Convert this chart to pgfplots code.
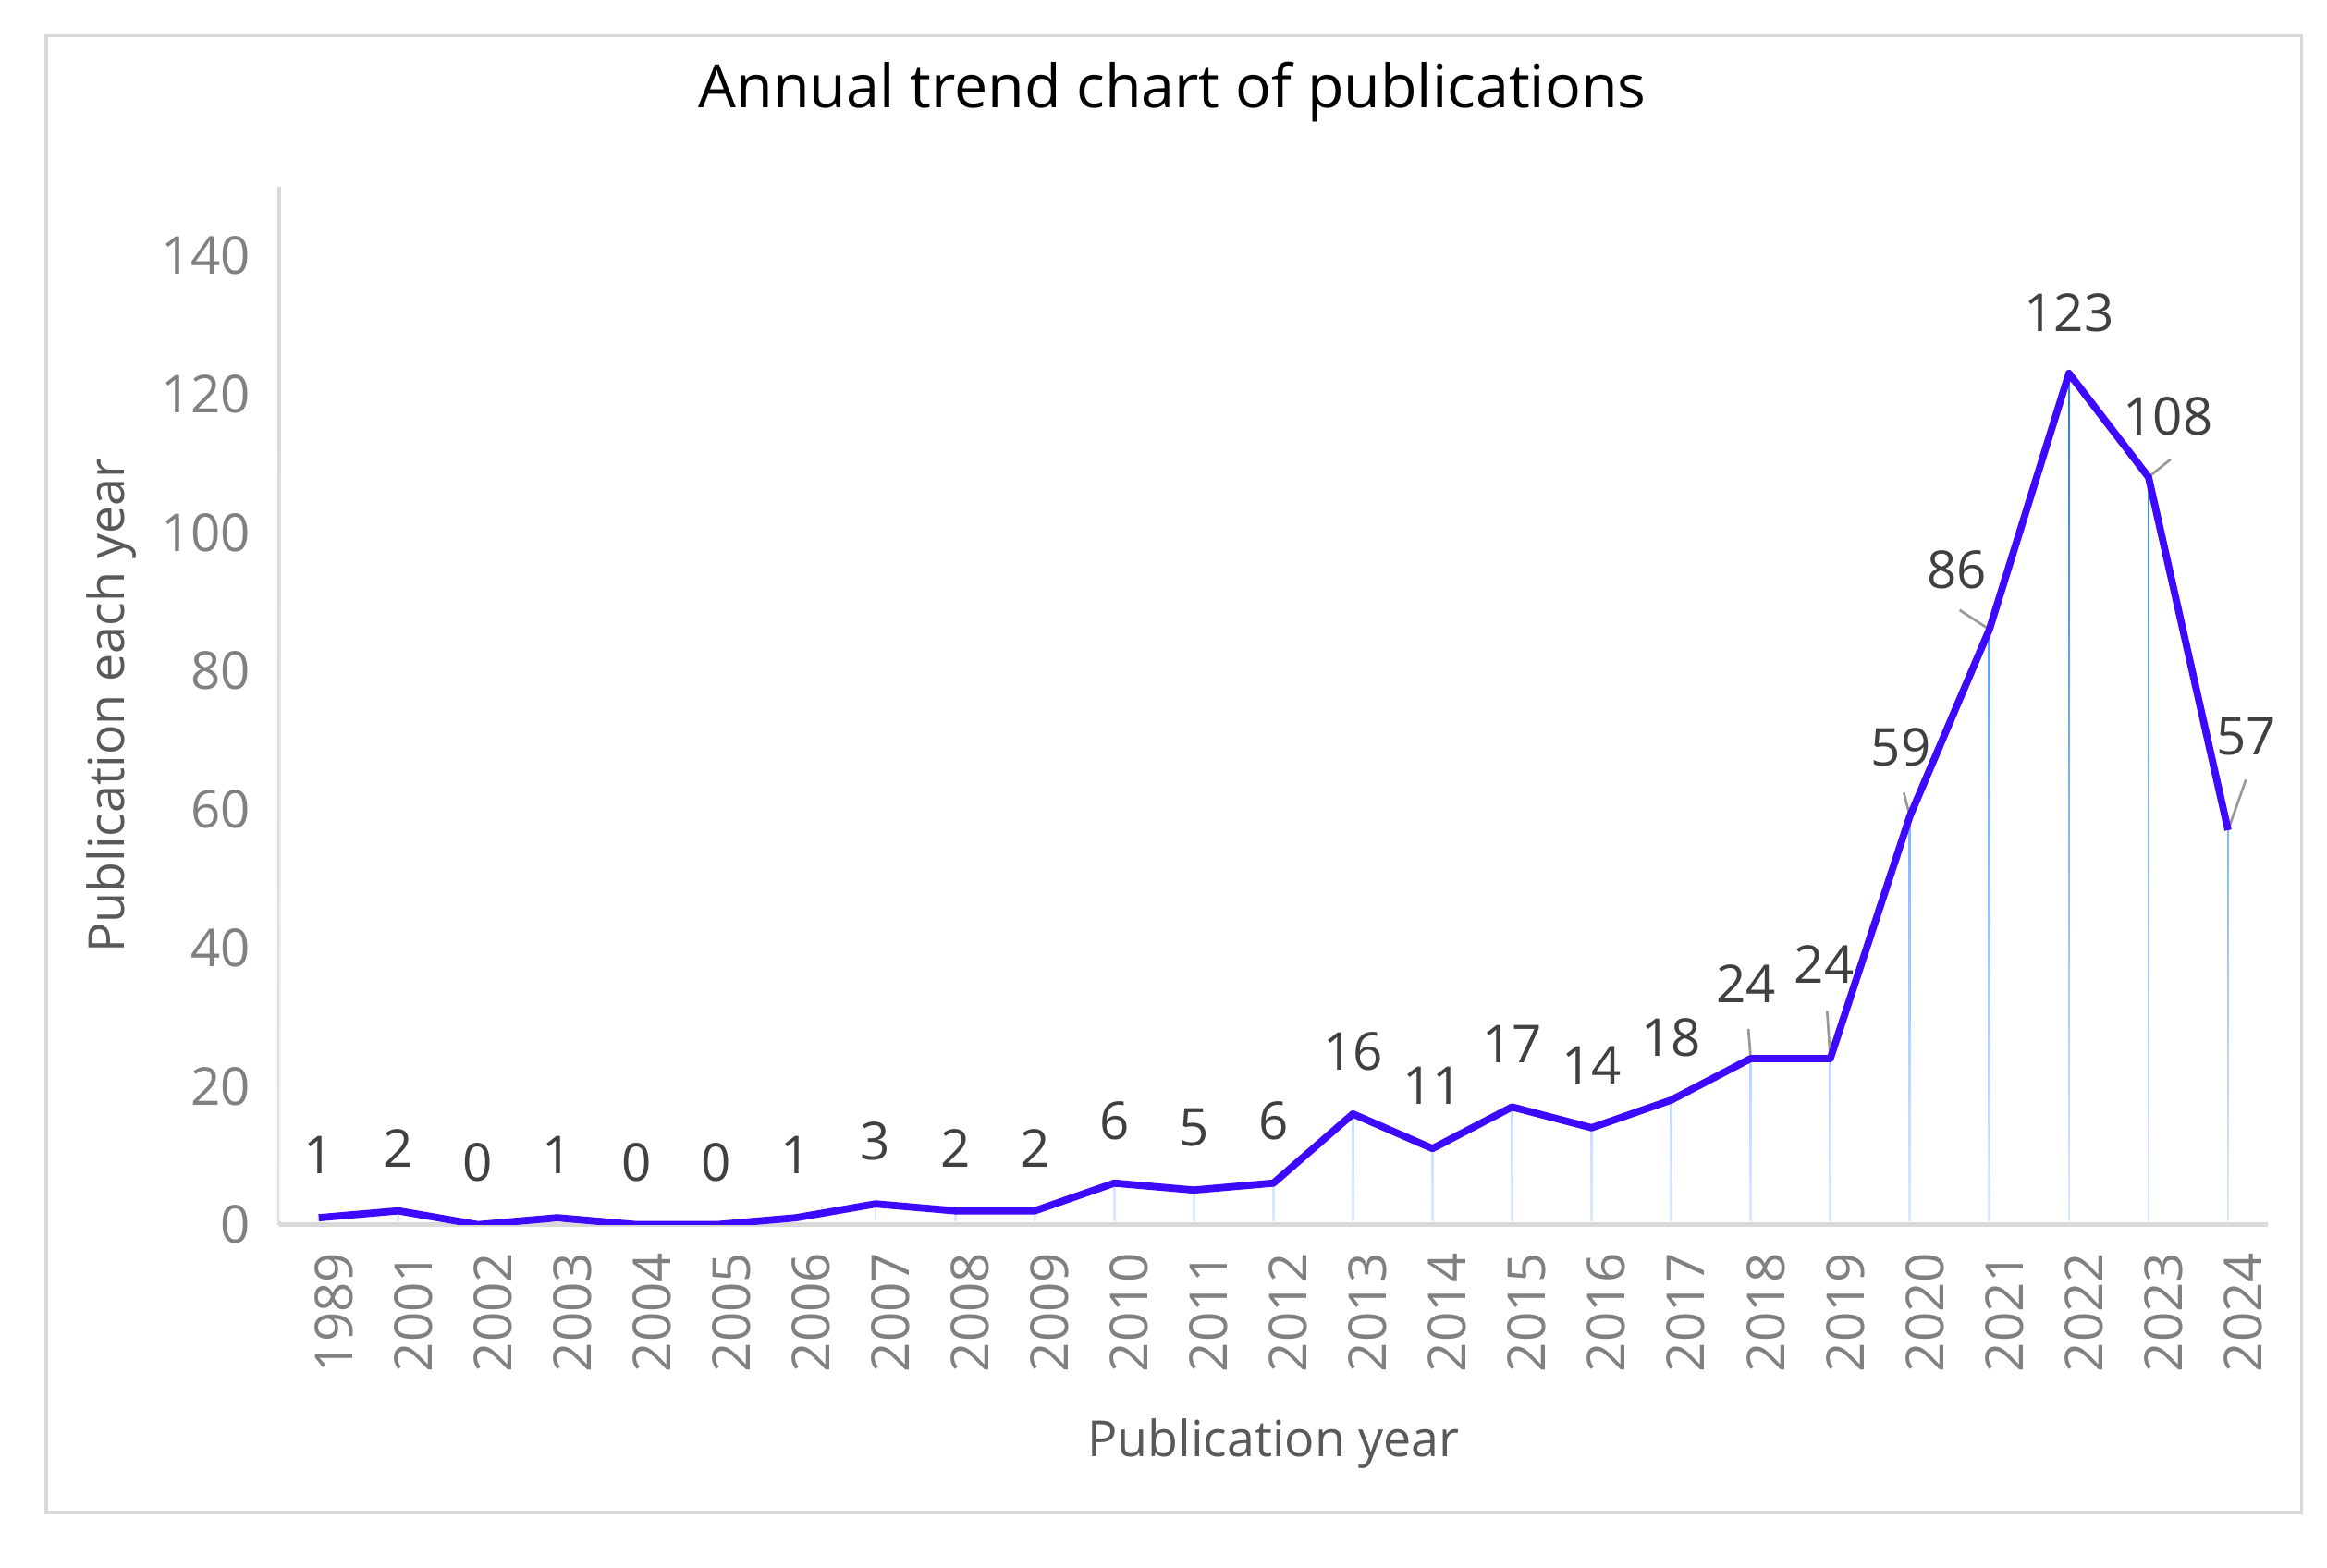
\documentclass[border=0pt]{standalone}
\usepackage{fontspec}
\setmainfont{Open Sans}
\usepackage{pgfplots}
\pgfplotsset{compat=1.18}
\usepackage{pgfplotstable}
\usetikzlibrary{fadings}

\definecolor{trendline}{RGB}{62,10,255}
\definecolor{dropline}{RGB}{30,120,255}
\definecolor{ticktext}{RGB}{128,128,128}
\definecolor{labeltext}{RGB}{89,89,89}
\definecolor{valtext}{RGB}{64,64,64}
\definecolor{framegray}{RGB}{217,217,217}

% idx = category position, dx/dy = label offset in pt
\pgfplotstableread{
idx year n dx dy
0 1989 1 0 12.6
1 2001 2 0 12.6
2 2002 0 0 12.6
3 2003 1 0 12.6
4 2004 0 0 12.6
5 2005 0 0 12.6
6 2006 1 0 12.6
7 2007 3 0 12.6
8 2008 2 0 12.6
9 2009 2 0 12.6
10 2010 6 0 12.6
11 2011 5 0 12.6
12 2012 6 0 12.6
13 2013 16 0 12.6
14 2014 11 0 12.6
15 2015 17 0 12.6
16 2016 14 0 12.6
17 2017 18 0 12.6
18 2018 24 -0.9 15.0
19 2019 24 -1.2 18.9
20 2020 59 -1.8 13.8
21 2021 86 -6.6 12.0
22 2022 123 0 12.2
23 2023 108 3.9 12.2
24 2024 57 3.6 18.8
}\pubs

% leader lines of the moved labels (axis units)
\pgfplotstableread{
idx n lu lv
18 24 -0.03 4.3
19 24 -0.04 6.9
20 59 -0.075 3.4
21 86 -0.375 2.8
23 108 0.28 2.6
24 57 0.225 7.3
}\leaders

\newcommand\tickfont{\fontsize{10.5}{12}\selectfont}

\begin{document}
\begin{tikzpicture}
\useasboundingbox (-56.1pt,-69pt) rectangle (411.9pt,246.3pt);
\draw[framegray, line width=0.6pt] (-46.8pt,-57.9pt) rectangle (406.8pt,239.1pt);
\begin{axis}[
    scale only axis,
    width=400pt, height=208.8pt,
    xmin=-0.5, xmax=24.5, ymin=0, ymax=150,
    axis lines=left,
    axis line style={draw=framegray, line width=0.8pt, -},
    tick style={draw=none},
    xtick={0,...,24},
    xticklabels from table={\pubs}{year},
    ytick={0,20,...,140},
    /pgf/number format/assume math mode=true,
    xticklabel style={rotate=90, anchor=east, yshift=-3pt, font=\tickfont, text=ticktext},
    yticklabel style={xshift=0pt, font=\tickfont, text=ticktext},
    xlabel={Publication year},
    ylabel={Publication each year},
    xlabel style={at={(axis description cs:0.5,-0.211)}, anchor=center, font=\fontsize{10}{12}\selectfont, text=labeltext},
    ylabel style={at={(axis description cs:-0.084,0.5)}, anchor=center, font=\fontsize{10}{12}\selectfont, text=labeltext},
]
\begin{scope}
\clip (axis cs:-0.5,0.6) rectangle (axis cs:24.5,150);
\addplot[ycomb, dropline, line width=0.5pt] table[x=idx, y=n] {\pubs};
\fill[white, path fading=north, fill opacity=0.85] (axis cs:-0.5,0) rectangle (axis cs:24.5,124);
\end{scope}
\addplot[gray!80, line width=0.5pt, -, quiver={u=\thisrow{lu}, v=\thisrow{lv}}] table[x=idx, y=n] {\leaders};
\addplot[trendline, line width=1.45pt, line join=round, mark=none,
    visualization depends on={\thisrow{dx}\as\ldx},
    visualization depends on={\thisrow{dy}\as\ldy},
    nodes near coords,
    point meta=y,
    nodes near coords style={anchor=center, xshift=\ldx pt, yshift=\ldy pt, text=valtext, font=\tickfont},
] table[x=idx, y=n] {\pubs};
\end{axis}
\node[font=\fontsize{12}{15}\selectfont, text=black] at (179.7pt,227.7pt) {Annual trend chart of publications};
\end{tikzpicture}
\end{document}
